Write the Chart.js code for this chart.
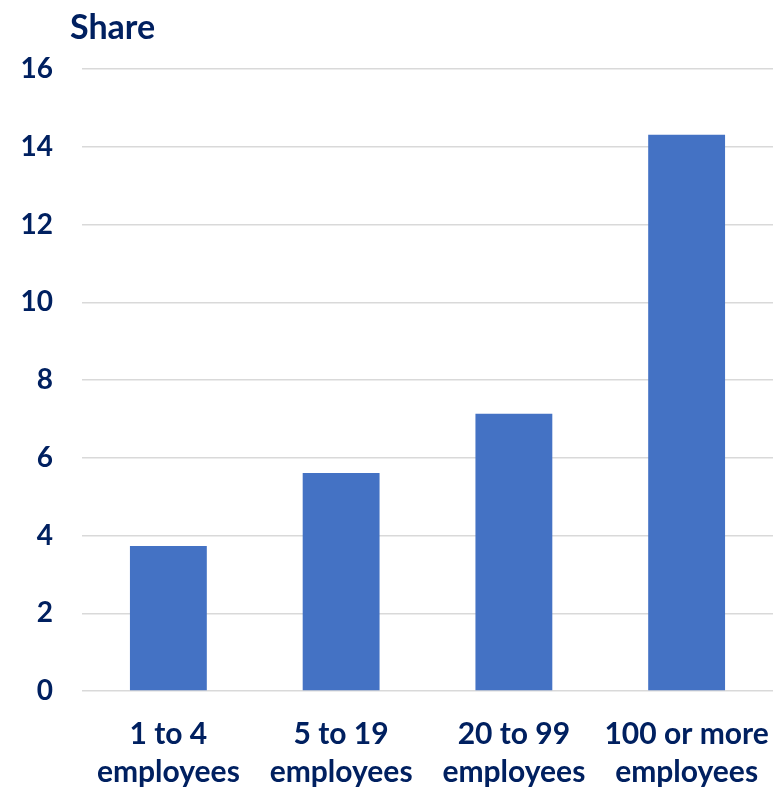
<!DOCTYPE html>
<html>
<head>
<meta charset="utf-8">
<script src="https://cdn.jsdelivr.net/npm/chart.js@4"></script>
<style>
  html, body { margin: 0; padding: 0; background: #ffffff; }
  #wrap { width: 774px; height: 788px; }
</style>
</head>
<body>
<div id="wrap"><canvas id="shareChart"></canvas></div>
<script>
// =========================
// Data
// =========================

const categories = [
    ["1 to 4", "employees"],
    ["5 to 19", "employees"],
    ["20 to 99", "employees"],
    ["100 or more", "employees"]
];

const shareValues = [3.73, 5.61, 7.13, 14.31];

const yTicks = [0, 2, 4, 6, 8, 10, 12, 14, 16];

const axisTitle = "Share";

// =========================
// Styles
// =========================

const navy = "#002060";
const barBlue = "#4472C4";
const gridGrey = "#d9d9d9";

// draws the "Share" label above the value axis
const titlePlugin = {
    id: "shareTitle",
    afterDraw(chart) {
        const ctx = chart.ctx;
        ctx.save();
        ctx.fillStyle = navy;
        ctx.font = "bold 34px Lato";
        ctx.textBaseline = "alphabetic";
        ctx.textAlign = "left";
        ctx.fillText(axisTitle, 70, 39);
        ctx.restore();
    }
};

const shareCtx = document.getElementById("shareChart");

new Chart(shareCtx, {
    type: "bar",
    data: {
        labels: categories,
        datasets: [{
            label: axisTitle,
            data: shareValues,
            backgroundColor: barBlue,
            borderWidth: 0,
            categoryPercentage: 1,
            barPercentage: 0.445
        }]
    },
    options: {
        responsive: true,
        maintainAspectRatio: false,
        animation: false,
        layout: {
            padding: { top: 69, right: 1, bottom: 0, left: 0 }
        },
        plugins: {
            legend: { display: false },
            tooltip: { enabled: false }
        },
        scales: {
            y: {
                min: 0,
                max: 16,
                afterFit(scale) { scale.width = 82; },
                afterBuildTicks(scale) {
                    scale.ticks = yTicks.map(v => ({ value: v }));
                },
                grid: {
                    color: gridGrey,
                    lineWidth: 1.5,
                    drawTicks: false
                },
                border: { display: false },
                ticks: {
                    color: navy,
                    padding: 29,
                    font: { family: "Lato", weight: "bold", size: 28 }
                }
            },
            x: {
                afterFit(scale) {
                    scale.height = 97;
                    // labels may run past the plot edge, as in the original
                    scale.paddingLeft = 0;
                    scale.paddingRight = 0;
                },
                grid: { display: false, drawTicks: false },
                border: { display: false },
                ticks: {
                    color: navy,
                    padding: 24,
                    maxRotation: 0,
                    font: { family: "Lato", weight: "bold", size: 30, lineHeight: 1.27 }
                }
            }
        }
    },
    plugins: [titlePlugin]
});
</script>
</body>
</html>
